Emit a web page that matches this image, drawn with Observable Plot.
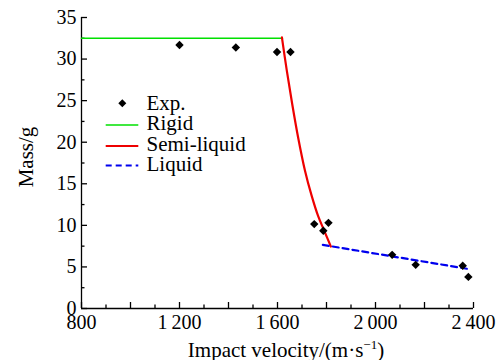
<!DOCTYPE html>
<html><head><meta charset="utf-8">
<script src="https://cdn.jsdelivr.net/npm/d3@7"></script>
<script src="https://cdn.jsdelivr.net/npm/@observablehq/plot@0.6"></script>
<style>html,body{margin:0;padding:0;background:#fff} svg{display:block}
#chart svg, #chart svg text{font-family:'Liberation Serif','Times New Roman',serif !important}</style>
</head><body><div id="chart"></div>
<script>
// Experimental points
const expVelocity = [1200, 1430, 1598, 1653, 1750, 1787, 1808, 2068, 2164, 2356, 2379];
const expMass     = [31.7, 31.4, 30.85, 30.85, 10.15, 9.35, 10.3, 6.45, 5.25, 5.15, 3.8];
// Model curves
const rigidVelocity  = [800, 1620];
const rigidMass      = [32.5, 32.5];
const semiVelocity   = [1618, 1638, 1660, 1684, 1712, 1739, 1766, 1790, 1818];
const semiMass       = [32.6, 28.6, 24.6, 20.6, 16.6, 13.6, 11.1, 9.4, 7.45];
const liquidVelocity = [1785, 2380];
const liquidMass     = [7.65, 4.75];
// Ticks
const xLabelTicks = [800, 1200, 1600, 2000, 2400];
const xMajorTicks = [800, 1000, 1200, 1400, 1600, 1800, 2000, 2200, 2400];
const xMinorTicks = [900, 1100, 1300, 1500, 1700, 1900, 2100, 2300];
const yMajorTicks = [0, 5, 10, 15, 20, 25, 30, 35];
const yMinorTicks = [2.5, 7.5, 12.5, 17.5, 22.5, 27.5, 32.5];
const legendLabels = ["Exp.", "Rigid", "Semi-liquid", "Liquid"];
const xTitle = "Impact velocity/(m·s";
const yTitle = "Mass/g";

const zip = (xs, ys) => xs.map((x, i) => ({x, y: ys[i]}));
const expData = zip(expVelocity, expMass);
const rigidData = zip(rigidVelocity, rigidMass);
const semiData = zip(semiVelocity, semiMass);
const liquidData = zip(liquidVelocity, liquidMass);

const GREEN = "#00e000", RED = "#ee0000", BLUE = "#0000ee";
const font = "'Liberation Serif', 'Times New Roman', serif";
const fmtX = d => d >= 1000 ? String(d).replace(/^(\d)(\d{3})$/, "$1\u2009$2") : String(d);

const chart = Plot.plot({
  width: 504, height: 360,
  marginLeft: 81, marginRight: 31, marginTop: 17, marginBottom: 52,
  x: {domain: [800, 2400]},
  y: {domain: [0, 35]},
  style: {fontFamily: font, fontSize: "20px", color: "#000", background: "#fff"},
  marks: [
    Plot.ruleY([0], {stroke: "#000", strokeWidth: 1.3}),
    Plot.ruleX([800], {stroke: "#000", strokeWidth: 1.3}),
    Plot.axisX({ticks: xMajorTicks, tickSize: -6, tickFormat: () => "", label: null, strokeWidth: 1.3}),
    Plot.axisX({ticks: xMinorTicks, tickSize: -3.5, tickFormat: () => "", label: null, strokeWidth: 1.3}),
    Plot.axisX({ticks: xLabelTicks, tickSize: 0, tickPadding: 6, tickFormat: fmtX, label: null, fontSize: 20, fontFamily: font}),
    Plot.axisY({ticks: yMajorTicks, tickSize: -6, tickFormat: () => "", label: null, strokeWidth: 1.3}),
    Plot.axisY({ticks: yMinorTicks, tickSize: -3.5, tickFormat: () => "", label: null, strokeWidth: 1.3}),
    Plot.axisY({ticks: yMajorTicks, tickSize: 0, tickPadding: 5, tickFormat: d => String(d), label: null, fontSize: 20, fontFamily: font}),
    Plot.line(rigidData, {x: "x", y: "y", stroke: GREEN, strokeWidth: 1.6}),
    Plot.line(semiData, {x: "x", y: "y", stroke: RED, strokeWidth: 2.2, curve: "catmull-rom"}),
    Plot.line(liquidData, {x: "x", y: "y", stroke: BLUE, strokeWidth: 2.2, strokeDasharray: "6,4"}),
    Plot.dot(expData, {x: "x", y: "y", symbol: "diamond2", r: 3.8, fill: "#000", stroke: "none"})
  ]
});
document.getElementById("chart").appendChild(chart);

const svg = d3.select(chart);
// force serif on every text Plot produced
svg.selectAll("text").attr("font-family", font).style("font-family", font).style("font-variant", "normal");

// Axis titles
const xt = svg.append("text")
  .attr("x", 286).attr("y", 356.5)
  .attr("text-anchor", "middle")
  .attr("font-family", font).attr("font-size", 21).attr("fill", "#000");
xt.append("tspan").text(xTitle);
xt.append("tspan").attr("font-size", 13).attr("dy", -8).text("\u22121");
xt.append("tspan").attr("dy", 8).text(")");

svg.append("text")
  .attr("transform", "translate(33,157) rotate(-90)")
  .attr("text-anchor", "middle")
  .attr("font-family", font).attr("font-size", 21).attr("fill", "#000")
  .text(yTitle);

// Legend
const lg = svg.append("g").attr("font-family", font).attr("font-size", 21).attr("fill", "#000")
  .attr("text-anchor", "start");
const rowY = [103.3, 125, 146, 165.5];
const baseY = [110.3, 130.3, 150.6, 170.7];
lg.append("path")
  .attr("transform", `translate(122.3,${rowY[0]})`)
  .attr("d", d3.symbol(d3.symbolDiamond2, 41)());
const styles = [null, {stroke: GREEN, w: 1.6, dash: null}, {stroke: RED, w: 2.2, dash: null}, {stroke: BLUE, w: 2.2, dash: "6,4"}];
styles.forEach((s, i) => {
  if (!s) return;
  const l = lg.append("line").attr("x1", 105.7).attr("x2", 138.3).attr("y1", rowY[i]).attr("y2", rowY[i])
    .attr("stroke", s.stroke).attr("stroke-width", s.w);
  if (s.dash) l.attr("stroke-dasharray", s.dash);
});
legendLabels.forEach((t, i) => {
  lg.append("text").attr("x", 146.5).attr("y", baseY[i]).attr("text-anchor", "start").text(t);
});
</script>
</body></html>
